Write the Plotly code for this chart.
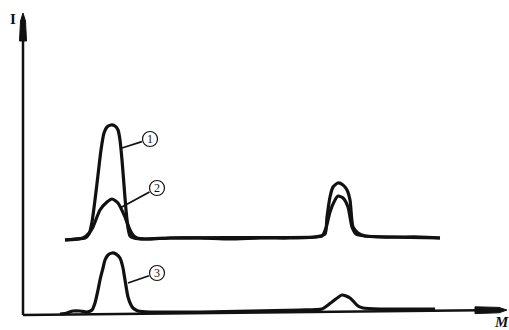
import plotly.graph_objects as go

# Curve samples (M in arbitrary units, I in arbitrary units)
m1 = [42, 52, 62, 66, 69, 72, 75, 78, 81, 84, 88, 92, 95, 97, 99, 101, 103, 105, 107, 111,
      122, 147, 177, 207, 237, 267, 292, 302, 304, 307, 310, 315, 320, 324, 327, 330, 335,
      342, 357, 377, 397, 417]
i1 = [73, 74, 75, 79, 91, 113, 138, 163, 180, 186, 188, 187, 183, 173, 153, 128, 103, 85, 77, 75,
      74, 75, 75, 74, 75, 75, 76, 79, 96, 116, 126, 130, 128, 123, 113, 86, 80,
      77, 76, 76, 76, 75]

m2 = [42, 60, 67, 70, 77, 84, 89, 95, 102, 107, 110, 114, 122, 147, 292, 299, 303, 307, 312,
      315, 320, 325, 329, 333, 342, 417]
i2 = [73, 75, 81, 86, 103, 111, 114, 110, 96, 83, 78, 75, 74, 75, 76, 77, 85, 101, 113,
      117, 115, 106, 86, 79, 77, 75]

m3 = [37, 44, 50, 57, 64, 69, 72, 75, 77, 80, 82, 85, 89, 93, 97, 100, 102, 105, 108, 110,
      115, 127, 177, 227, 277, 299, 309, 319, 327, 335, 340, 357, 387, 412]
i3 = [-1, 0, 2, 2, 1, 3, 10, 23, 33, 45, 53, 58, 60, 59, 55, 45, 33, 16, 8, 5,
      2, 1, 1, 2, 3, 4, 11, 18, 15, 7, 5, 4, 4, 4]

curve_labels = ["1", "2", "3"]
# label centre (M, I) and the curve point each leader line touches
label_m = [127, 134, 134]
label_i = [174, 125, 40]
leader_m = [99, 97, 105]
leader_i = [165, 105, 30]

ink = "#111111"
fig = go.Figure()
for m, i, n in [(m1, i1, curve_labels[0]), (m2, i2, curve_labels[1]), (m3, i3, curve_labels[2])]:
    fig.add_trace(go.Scatter(x=m, y=i, mode="lines", name=n,
                             line=dict(color=ink, width=3.2, shape="spline", smoothing=0.6),
                             showlegend=False, hoverinfo="skip"))

shapes = [
    # y axis
    dict(type="line", x0=0, y0=-2, x1=0, y1=276, line=dict(color=ink, width=2.5)),
    dict(type="path", path="M -3.5,272 L -2.5,292 L 0,300 L 2.5,292 L 3.5,272 Z",
         fillcolor=ink, line=dict(color=ink, width=1)),
    # x axis
    dict(type="line", x0=0, y0=-2, x1=456, y1=2.7, line=dict(color=ink, width=2.5)),
    dict(type="path", path="M 452,-0.6 L 476,0.2 L 484,2.9 L 476,5.6 L 452,6.2 Z",
         fillcolor=ink, line=dict(color=ink, width=1)),
]

anns = []
r = 7.5
for k in range(3):
    lm, li = label_m[k], label_i[k]
    shapes.append(dict(type="circle", xref="x", yref="y", xsizemode="pixel", ysizemode="pixel",
                       xanchor=lm, yanchor=li, x0=-r, x1=r, y0=-r, y1=r,
                       line=dict(color=ink, width=1.2), fillcolor="rgba(0,0,0,0)"))
    # leader line: from the circle edge towards the curve
    dx, dy = leader_m[k] - lm, leader_i[k] - li
    d = (dx * dx + dy * dy) ** 0.5
    sx, sy = lm + dx / d * (r + 1), li + dy / d * (r + 1)
    shapes.append(dict(type="line", x0=sx, y0=sy, x1=leader_m[k], y1=leader_i[k],
                       line=dict(color=ink, width=1.8)))
    anns.append(dict(x=lm, y=li, text=curve_labels[k], showarrow=False, yshift=0,
                     font=dict(family="Liberation Serif", size=12, color=ink)))

anns.append(dict(x=-10, y=294, text="<b>I</b>", showarrow=False,
                 font=dict(family="Liberation Serif", size=15, color=ink)))
anns.append(dict(x=478, y=-9, text="<b><i>M</i></b>", showarrow=False,
                 font=dict(family="Liberation Serif", size=15, color=ink)))

fig.update_layout(
    width=509, height=330,
    margin=dict(l=0, r=0, t=0, b=0),
    paper_bgcolor="white", plot_bgcolor="white",
    xaxis=dict(range=[-23, 486], visible=False, fixedrange=True),
    yaxis=dict(range=[-17, 313], visible=False, fixedrange=True),
    shapes=shapes, annotations=anns,
)

fig.write_html("out.html", config={"displayModeBar": False},
               post_script="document.body.style.margin='0';document.body.style.overflow='hidden';")
